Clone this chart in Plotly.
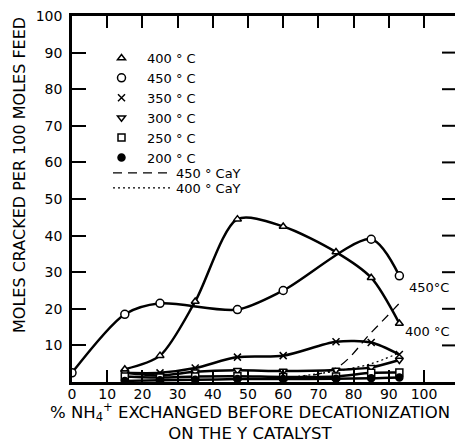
import plotly.graph_objects as go

# ---- data ----
x_450 = [0, 15, 25, 47, 60, 85, 93]
y_450 = [2.5, 18.5, 21.5, 19.8, 25, 39, 29]

x_runs = [15, 25, 35, 47, 60, 75, 85, 93]
y_400 = [3.5, 7.2, 22, 44.5, 42.5, 35.5, 28.5, 16]
y_350 = [2.5, 2.5, 3.8, 6.8, 7.2, 11, 10.8, 7.5]
y_300 = [2.5, 1.8, 2.8, 3.2, 3.0, 3.3, 4.0, 6.0]
y_250 = [1.5, 1.2, 1.5, 1.6, 1.4, 1.5, 2.5, 2.6]
y_200 = [0.3, 0.5, 0.6, 0.8, 0.8, 0.9, 1.0, 1.2]

x_cay = [60, 75, 85, 93]
y_cay450 = [1.0, 3.8, 13.5, 21.5]
y_cay400 = [1.0, 3.0, 5.0, 8.0]

x_ticks = [0, 10, 20, 30, 40, 50, 60, 70, 80, 90, 100]
y_ticks = [10, 20, 30, 40, 50, 60, 70, 80, 90, 100]

FONT = "DejaVu Sans"
BLACK = "black"

W, H = 457, 443
L, R, T, B = 72, 2, 16, 61
PLOT_W = W - L - R
X_MAX = PLOT_W / 3.52  # keeps x = 100 where the reference has it

fig = go.Figure()

def series(x, y, symbol, name, fill="white", size=8):
    fig.add_trace(go.Scatter(
        x=x, y=y, mode="lines+markers", showlegend=False,
        line=dict(color=BLACK, width=2.5, shape="spline", smoothing=0.8),
        marker=dict(symbol=symbol, size=size, color=fill,
                    line=dict(color=BLACK, width=1.5)),
        name=name))
    # legend entry (symbol only)
    fig.add_trace(go.Scatter(
        x=[None], y=[None], mode="markers", name=name, legend="legend",
        marker=dict(symbol=symbol, size=size, color=fill,
                    line=dict(color=BLACK, width=1.5))))

series(x_runs, y_400, "triangle-up", "400 ° C", size=7)
series(x_450, y_450, "circle", "450 ° C")
series(x_runs, y_350, "x-thin", "350 ° C", fill=BLACK, size=7)
series(x_runs, y_300, "triangle-down", "300 ° C", size=7)
series(x_runs, y_250, "square", "250 ° C", size=7)
series(x_runs, y_200, "circle", "200 ° C", fill=BLACK, size=7)

fig.add_trace(go.Scatter(
    x=x_cay, y=y_cay450, mode="lines", name="450 ° CaY", legend="legend2",
    line=dict(color=BLACK, width=1.3, dash="9px,6px", shape="spline")))
fig.add_trace(go.Scatter(
    x=x_cay, y=y_cay400, mode="lines", name="400 ° CaY", legend="legend3",
    line=dict(color=BLACK, width=1.3, dash="2px,3px", shape="spline")))

# right-hand tick marks (no right frame line in the reference), drawn as a line trace
tick_len_units = 13 * X_MAX / PLOT_W
rt_x, rt_y = [], []
for v in y_ticks[:-1]:
    rt_x += [X_MAX - tick_len_units, X_MAX, None]
    rt_y += [v, v, None]
fig.add_trace(go.Scatter(x=rt_x, y=rt_y, mode="lines", showlegend=False,
                         hoverinfo="skip", cliponaxis=False,
                         line=dict(color=BLACK, width=2)))

def px_x(p):
    return (p - L) / PLOT_W

def px_y(p):
    return (H - B - p) / (H - T - B)

leg_common = dict(xanchor="left", yanchor="middle", bgcolor="rgba(0,0,0,0)",
                  font=dict(size=13), tracegroupgap=0)

fig.update_layout(
    width=W, height=H,
    margin=dict(l=L, r=R, t=T, b=B, autoexpand=False),
    paper_bgcolor="white", plot_bgcolor="white",
    font=dict(family=FONT, size=14, color=BLACK),
    xaxis=dict(range=[0, X_MAX], tickvals=x_ticks, ticktext=[str(v) for v in x_ticks],
               ticks="inside", ticklen=12, tickwidth=2, tickcolor=BLACK,
               showline=True, linewidth=2.5, linecolor=BLACK, mirror="ticks",
               showgrid=False, zeroline=False, tickfont=dict(size=14),
               ticklabelstandoff=-3),
    yaxis=dict(range=[0, 100], tickvals=y_ticks, ticktext=[str(v) for v in y_ticks],
               ticks="inside", ticklen=14, tickwidth=2, tickcolor=BLACK,
               showline=True, linewidth=2.5, linecolor=BLACK,
               showgrid=False, zeroline=False, tickfont=dict(size=14),
               ticklabelstandoff=4),
    legend=dict(x=px_x(96), y=px_y(108), itemwidth=41, **leg_common),
    legend2=dict(x=px_x(108), y=px_y(173), itemwidth=58, **leg_common),
    legend3=dict(x=px_x(108), y=px_y(188), itemwidth=58, **leg_common),
    annotations=[
        dict(text="MOLES CRACKED PER 100 MOLES FEED", textangle=-90,
             xref="paper", yref="paper", x=px_x(19), y=px_y(175),
             xanchor="center", yanchor="middle", showarrow=False,
             font=dict(size=16)),
        dict(text="% NH<sub>4</sub><sup>+</sup> EXCHANGED BEFORE DECATIONIZATION<br>ON THE Y CATALYST",
             xref="paper", yref="paper", x=px_x(250), y=px_y(421),
             xanchor="center", yanchor="middle", showarrow=False,
             font=dict(size=16.5)),
        dict(text="450°C", xref="x", yref="y", x=95.2, y=25.7,
             xanchor="left", yanchor="middle", showarrow=False, font=dict(size=13)),
        dict(text="400 °C", xref="x", yref="y", x=93.9, y=13.7,
             xanchor="left", yanchor="middle", showarrow=False, font=dict(size=13)),
    ],
)

fig.write_html("out.html", config={"displayModeBar": False},
               post_script="document.body.style.margin='0px';"
                           "document.body.style.overflow='hidden';")
